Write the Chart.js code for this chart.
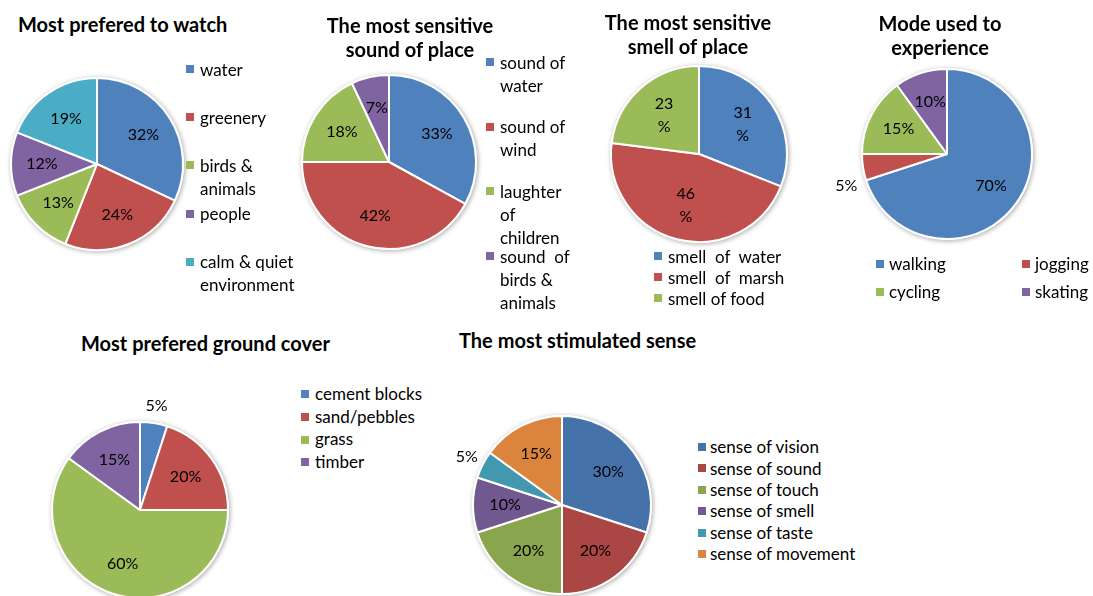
<!DOCTYPE html>
<html>
<head>
<meta charset="utf-8">
<script src="https://cdn.jsdelivr.net/npm/chart.js@4.4.1/dist/chart.umd.min.js"></script>
<style>
  body { margin: 0; background: #fff; font-family: Lato, "DejaVu Sans", sans-serif; }
  #wrap { position: relative; width: 1093px; height: 596px; overflow: hidden; }
  canvas { position: absolute; }
  .title { position: absolute; font-weight: bold; font-size: 20px; color: #000; line-height: 24px; white-space: nowrap; }
  .legend { position: absolute; font-size: 17px; color: #000; }
  .item { position: absolute; white-space: nowrap; }
  .sq { position: absolute; width: 8px; height: 8px; }
</style>
</head>
<body>
<div id="wrap"></div>
<script>
// chart 1 - most prefered to watch
const watchLabels = ["water", "greenery", ["birds &", "animals"], "people", ["calm & quiet", "environment"]];
const watchValues = [32, 24, 13, 12, 19];

// chart 2 - sound of place
const soundLabels = [["sound of", "water"], ["sound of", "wind"], ["laughter", "of", "children"], ["sound  of", "birds &", "animals"]];
const soundValues = [33, 42, 18, 7];

// chart 3 - smell of place
const smellLabels = ["smell  of  water", "smell  of  marsh", "smell of food"];
const smellValues = [31, 46, 23];

// chart 4 - mode used
const modeLabels = ["walking", "jogging", "cycling", "skating"];
const modeValues = [70, 5, 15, 10];

// chart 5 - ground cover
const groundLabels = ["cement blocks", "sand/pebbles", "grass", "timber"];
const groundValues = [5, 20, 60, 15];

// chart 6 - stimulated sense
const senseLabels = ["sense of vision", "sense of sound", "sense of touch", "sense of smell", "sense of taste", "sense of movement"];
const senseValues = [30, 20, 20, 10, 5, 15];

const office = ["#4F81BD", "#C0504D", "#9BBB59", "#8064A2", "#4BACC6", "#F79646"];
const officeDark = ["#4672AA", "#AA4643", "#89A54E", "#71588F", "#4198AF", "#DB843D"];

const wrap = document.getElementById("wrap");

// percent labels inside slices, small ones outside
const pctLabels = {
  id: "pctLabels",
  beforeDatasetsDraw(chart) {
    const arc = chart.getDatasetMeta(0).data[0];
    if (!arc) return;
    const ctx = chart.ctx;
    ctx.save();
    ctx.shadowColor = "rgba(0,0,0,0.35)";
    ctx.shadowBlur = 5;
    ctx.shadowOffsetX = 1;
    ctx.shadowOffsetY = 1;
    ctx.fillStyle = "#fff";
    ctx.beginPath();
    ctx.arc(arc.x, arc.y, arc.outerRadius + 1, 0, Math.PI * 2);
    ctx.fill();
    ctx.restore();
  },
  afterDatasetsDraw(chart, args, opts) {
    const ctx = chart.ctx;
    const vals = chart.data.datasets[0].data;
    ctx.save();
    ctx.font = "16px Lato";
    ctx.fillStyle = "#000";
    ctx.textAlign = "center";
    ctx.textBaseline = "middle";
    chart.getDatasetMeta(0).data.forEach((a, i) => {
      const mid = (a.startAngle + a.endAngle) / 2;
      const out = vals[i] < 6;
      const r = a.outerRadius * (out ? 1.2 : (opts.inner || 0.64));
      const x = a.x + Math.cos(mid) * r;
      const y = a.y + Math.sin(mid) * r + (out ? (opts.outDy || 0) : 0);
      if (opts.split && !out) {
        ctx.fillText(String(vals[i]), x, y - 11);
        ctx.fillText("%", x, y + 12);
      } else {
        ctx.fillText(vals[i] + "%", x, y);
      }
    });
    ctx.restore();
  }
};

function pie(cx, cy, r, labels, values, colors, lbl) {
  const pad = 38;
  const size = 2 * (r + pad);
  const cv = document.createElement("canvas");
  cv.width = size;
  cv.height = size;
  cv.style.left = (cx - size / 2) + "px";
  cv.style.top = (cy - size / 2) + "px";
  wrap.appendChild(cv);
  new Chart(cv, {
    type: "pie",
    data: {
      labels: labels,
      datasets: [{
        data: values,
        backgroundColor: colors.slice(0, values.length),
        borderColor: "#fff",
        borderWidth: 2
      }]
    },
    options: {
      responsive: false,
      animation: false,
      devicePixelRatio: 1,
      layout: { padding: pad },
      plugins: {
        legend: { display: false },
        tooltip: { enabled: false },
        pctLabels: lbl || {}
      }
    },
    plugins: [pctLabels]
  });
}

function title(lines, x, y, align) {
  const d = document.createElement("div");
  d.className = "title";
  d.innerHTML = lines.join("<br>");
  d.style.top = y + "px";
  d.style.left = x + "px";
  if (align === "center") {
    d.style.transform = "translateX(-50%)";
    d.style.textAlign = "center";
  }
  wrap.appendChild(d);
}

// legend: items flow down in slots, or across cols
function legend(labels, colors, o) {
  const box = document.createElement("div");
  box.className = "legend";
  box.style.left = o.x + "px";
  box.style.top = o.y + "px";
  box.style.lineHeight = o.lineH + "px";
  const cols = o.cols || 1;
  labels.forEach((lab, i) => {
    const it = document.createElement("div");
    it.className = "item";
    const col = i % cols, row = Math.floor(i / cols);
    it.style.left = (col * (o.colW || 0)) + "px";
    it.style.top = (row * o.slotH) + "px";
    it.style.paddingLeft = o.textDx + "px";
    const lines = Array.isArray(lab) ? lab : [lab];
    it.innerHTML = lines.map(s => s.replace(/  /g, " &nbsp;")).join("<br>");
    const sq = document.createElement("span");
    sq.className = "sq";
    sq.style.background = colors[i];
    sq.style.left = "0px";
    sq.style.top = (o.lineH / 2 - 4) + "px";
    it.appendChild(sq);
    box.appendChild(it);
  });
  wrap.appendChild(box);
}

// row 1
pie(97, 164, 87, watchLabels, watchValues, office);
title(["Most prefered to watch"], 18, 12);
legend(watchLabels, office, { x: 186, y: 57.5, lineH: 23, slotH: 48.2, textDx: 14 });

pie(389, 162, 88, soundLabels, soundValues, office);
title(["The most sensitive", "sound of place"], 410, 13, "center");
legend(soundLabels, office, { x: 486, y: 50.5, lineH: 23, slotH: 64.7, textDx: 14 });

pie(699, 154, 89, smellLabels, smellValues, office, { split: true, inner: 0.6 });
title(["The most sensitive", "smell of place"], 688, 10, "center");
legend(smellLabels, office, { x: 654, y: 245.5, lineH: 21, slotH: 21, textDx: 14 });

pie(947, 154, 86, modeLabels, modeValues, office, { outDy: 16 });
title(["Mode used to", "experience"], 940, 11, "center");
legend(modeLabels, office, { x: 876, y: 253, lineH: 22, slotH: 28, textDx: 13, cols: 2, colW: 146 });

// row 2
pie(140, 510, 89, groundLabels, groundValues, office);
title(["Most prefered ground cover"], 81, 331);
legend(groundLabels, office, { x: 301, y: 383, lineH: 22.7, slotH: 22.7, textDx: 14 });

pie(562, 505, 90, senseLabels, senseValues, officeDark);
title(["The most stimulated sense"], 459, 328);
legend(senseLabels, officeDark, { x: 698, y: 436.3, lineH: 21.4, slotH: 21.4, textDx: 12 });
</script>
</body>
</html>
